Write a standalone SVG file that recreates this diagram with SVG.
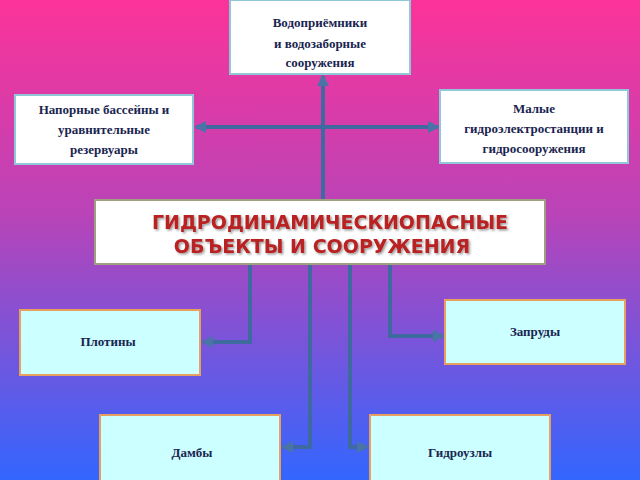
<svg xmlns="http://www.w3.org/2000/svg" width="640" height="480" viewBox="0 0 640 480">
<defs>
<linearGradient id="bg" x1="0" y1="0" x2="0" y2="1">
<stop offset="0" stop-color="#fc3399"/><stop offset="0.45" stop-color="#b844b8"/><stop offset="1" stop-color="#3366ff"/>
</linearGradient>
<marker id="ar" viewBox="0 0 6 6" refX="5" refY="3" markerWidth="3" markerHeight="3" orient="auto"><path d="M0,0L6,3L0,6z" fill="#4a74a8"/></marker>
<filter id="sh"><feDropShadow dx="1.5" dy="1.5" stdDeviation="0.8" flood-color="#000" flood-opacity="0.4"/></filter>
</defs>
<style>
.top{fill:#ffffff;stroke:#8fc8d8;stroke-width:2}
.bot{fill:#ccffff;stroke:#e8a060;stroke-width:2}
.t{font-family:"Liberation Serif",serif;font-weight:bold;font-size:13px;fill:#1a2550;text-anchor:middle}
.c{fill:none;stroke:#3f6aa0;stroke-width:4;marker-end:url(#ar)}
.h{font-family:"DejaVu Sans","Liberation Sans",sans-serif;font-weight:bold;font-size:19px;fill:#b82020;text-anchor:middle}
</style>
<rect width="640" height="480" fill="url(#bg)"/>
<g id="connectors">
<path class="c" d="M323,200V76"/>
<path class="c" d="M323,127H196"/>
<path class="c" d="M323,127H438"/>
<path class="c" d="M250,264V342H203"/>
<path class="c" d="M390,264V336H443"/>
<path class="c" d="M310,264V447H283"/>
<path class="c" d="M350,264V447H367"/>
</g>
<g id="n1"><rect class="top" x="230" y="0" width="180" height="74"/>
<text class="t" x="320" y="27">Водоприёмники</text><text class="t" x="320" y="48"> и водозаборные</text><text class="t" x="320" y="67">сооружения</text></g>
<g id="n2"><rect class="top" x="15" y="95" width="178" height="69"/>
<text class="t" x="104" y="114">Напорные бассейны и</text><text class="t" x="104" y="134">уравнительные</text><text class="t" x="104" y="154">резервуары</text></g>
<g id="n3"><rect class="top" x="440" y="90" width="188" height="73"/>
<text class="t" x="534" y="113">Малые</text><text class="t" x="534" y="133">гидроэлектростанции и</text><text class="t" x="534" y="153">гидросооружения</text></g>
<g id="main"><rect x="95" y="200" width="450" height="64" fill="#fff" stroke="#a0a080" stroke-width="2"/>
<text class="h" x="330" y="229" filter="url(#sh)">ГИДРОДИНАМИЧЕСКИОПАСНЫЕ</text><text class="h" x="322" y="253" filter="url(#sh)">ОБЪЕКТЫ И СООРУЖЕНИЯ</text></g>
<g id="n4"><rect class="bot" x="20" y="310" width="180" height="65"/><text class="t" x="108" y="346">Плотины</text></g>
<g id="n5"><rect class="bot" x="445" y="300" width="180" height="64"/><text class="t" x="535" y="336">Запруды</text></g>
<g id="n6"><rect class="bot" x="100" y="415" width="180" height="66"/><text class="t" x="192" y="457">Дамбы</text></g>
<g id="n7"><rect class="bot" x="370" y="415" width="180" height="66"/><text class="t" x="460" y="457">Гидроузлы</text></g>
</svg>
